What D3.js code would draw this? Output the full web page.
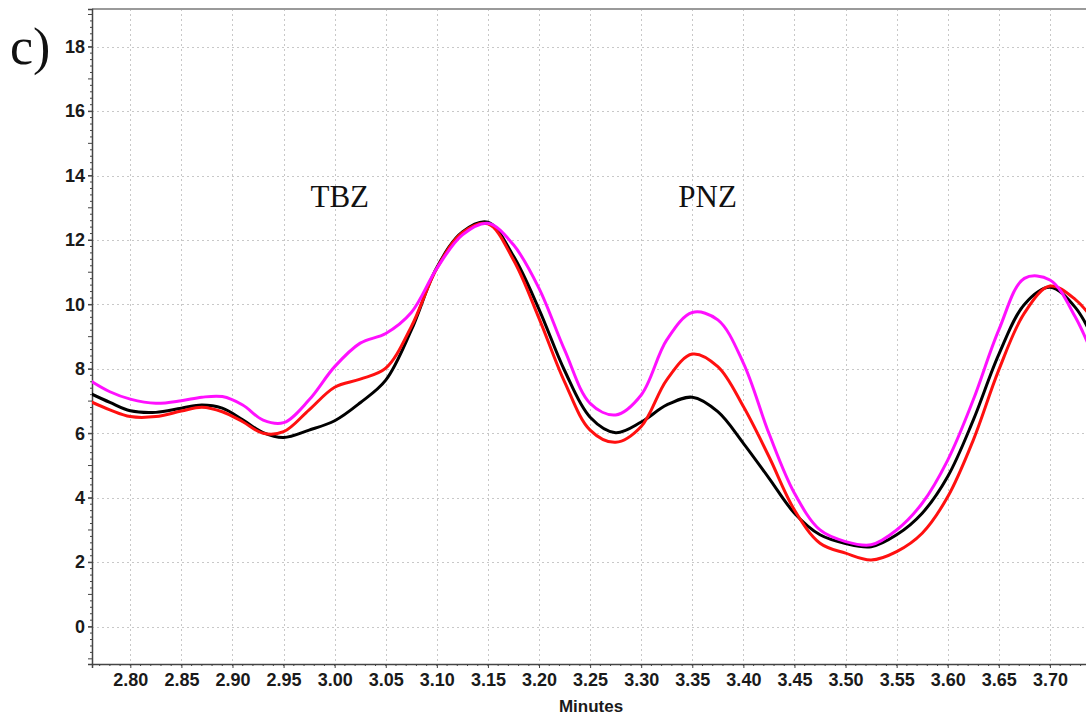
<!DOCTYPE html>
<html>
<head>
<meta charset="utf-8">
<script src="https://cdn.jsdelivr.net/npm/d3@7"></script>
<style>
  body { margin: 0; background: #fff; }
  svg { display: block; }
</style>
</head>
<body>
<script>
// retention time (minutes) shared by the three traces
var minutes = [2.76, 2.78, 2.80, 2.825, 2.85, 2.87, 2.89, 2.91, 2.93, 2.95, 2.975,
  3.00, 3.025, 3.05, 3.075, 3.10, 3.125, 3.15, 3.175, 3.20, 3.225, 3.25, 3.275,
  3.30, 3.325, 3.35, 3.375, 3.40, 3.425, 3.45, 3.475, 3.50, 3.525, 3.55, 3.575,
  3.60, 3.625, 3.65, 3.675, 3.70, 3.725, 3.75];

var blackTrace = [7.25, 6.96, 6.70, 6.65, 6.78, 6.88, 6.78, 6.42, 6.02, 5.87, 6.10,
  6.39, 6.95, 7.65, 9.2, 11.15, 12.25, 12.55, 11.5, 9.85, 7.95, 6.5, 6.02,
  6.35, 6.88, 7.12, 6.67, 5.69, 4.61, 3.52, 2.85, 2.58, 2.48, 2.85, 3.52,
  4.66, 6.41, 8.45, 10.0, 10.53, 9.9, 8.4];

var redTrace = [7.0, 6.73, 6.52, 6.52, 6.69, 6.81, 6.67, 6.36, 6.00, 6.05, 6.73,
  7.43, 7.68, 8.02, 9.31, 11.12, 12.23, 12.50, 11.38, 9.57, 7.60, 6.10, 5.72,
  6.21, 7.66, 8.46, 8.07, 6.83, 5.28, 3.62, 2.59, 2.28, 2.07, 2.33, 2.90,
  4.03, 5.79, 7.97, 9.73, 10.57, 10.15, 9.2];

var magentaTrace = [7.65, 7.29, 7.06, 6.93, 7.01, 7.12, 7.14, 6.88, 6.41, 6.33, 7.04,
  8.07, 8.80, 9.10, 9.75, 11.12, 12.16, 12.52, 11.85, 10.50, 8.59, 6.93, 6.57,
  7.19, 8.90, 9.75, 9.52, 8.18, 6.00, 4.14, 3.00, 2.64, 2.54, 3.00, 3.83,
  5.17, 7.04, 9.21, 10.81, 10.76, 9.6, 7.8];

var xTicks = [2.80, 2.85, 2.90, 2.95, 3.00, 3.05, 3.10, 3.15, 3.20, 3.25, 3.30,
  3.35, 3.40, 3.45, 3.50, 3.55, 3.60, 3.65, 3.70];
var yTicks = [0, 2, 4, 6, 8, 10, 12, 14, 16, 18];
var peakLabels = ["TBZ", "PNZ"];
var peakTimes = [3.005, 3.365];

var width = 1086, height = 718;
var padLeft = 92, padTop = 9, padBottom = 664;

var svg = d3.select("body").append("svg")
    .attr("width", width)
    .attr("height", height);

var x = d3.scaleLinear()
    .domain([2.7625, 3.75])
    .range([padLeft, 1101]);

var y = d3.scaleLinear()
    .domain([-1.16, 19.17])
    .range([padBottom, padTop]);

svg.append("defs").append("clipPath")
    .attr("id", "plot")
  .append("rect")
    .attr("x", padLeft)
    .attr("y", padTop)
    .attr("width", width - padLeft)
    .attr("height", padBottom - padTop);

// dotted grid
svg.append("g").selectAll("line")
    .data(xTicks).enter()
    .append("line")
    .attr("x1", function(d){ return Math.round(x(d)) + 0.5; })
    .attr("x2", function(d){ return Math.round(x(d)) + 0.5; })
    .attr("y1", padTop)
    .attr("y2", padBottom)
    .attr("stroke", "#c8c8c8")
    .attr("stroke-dasharray", "2,3");

svg.append("g").selectAll("line")
    .data(yTicks).enter()
    .append("line")
    .attr("x1", padLeft)
    .attr("x2", width)
    .attr("y1", function(d){ return Math.round(y(d)) + 0.5; })
    .attr("y2", function(d){ return Math.round(y(d)) + 0.5; })
    .attr("stroke", "#c8c8c8")
    .attr("stroke-dasharray", "2,3");

// top frame line
svg.append("line")
    .attr("x1", padLeft).attr("x2", width)
    .attr("y1", padTop).attr("y2", padTop)
    .attr("stroke", "#9a9a9a")
    .attr("stroke-width", 2);

// axes
var yAxis = d3.axisLeft(y)
    .tickValues(yTicks)
    .tickSize(4)
    .tickFormat(d3.format("d"));

var gy = svg.append("g")
    .attr("transform", "translate(" + padLeft + ",0)")
    .call(yAxis);

var yMinor = d3.range(-1, 19.01, 0.2).map(function(d){ return Math.round(d * 10) / 10; });
gy.selectAll(".minor")
    .data(yMinor).enter()
    .append("line")
    .attr("class", "minor")
    .attr("x1", function(d){ return Math.abs(d - Math.round(d)) < 0.01 ? -4 : -2; })
    .attr("x2", 0)
    .attr("y1", function(d){ return y(d); })
    .attr("y2", function(d){ return y(d); })
    .attr("stroke", "#444");

var xAxis = d3.axisBottom(x)
    .tickValues(xTicks)
    .tickSize(4)
    .tickFormat(d3.format(".2f"));

var gx = svg.append("g")
    .attr("transform", "translate(0," + padBottom + ")")
    .call(xAxis);

var xMinor = d3.range(2.77, 3.76, 0.01);
gx.selectAll(".minor")
    .data(xMinor).enter()
    .append("line")
    .attr("class", "minor")
    .attr("x1", function(d){ return x(d); })
    .attr("x2", function(d){ return x(d); })
    .attr("y1", 0)
    .attr("y2", 2)
    .attr("stroke", "#444");

[gx, gy].forEach(function(g){
  g.select(".domain").attr("stroke", "#444").attr("stroke-width", 1.5);
  g.selectAll(".tick line").attr("stroke", "#444");
  g.selectAll(".tick text")
    .attr("font-family", "'Liberation Sans', Arial, sans-serif")
    .attr("font-weight", "bold")
    .attr("font-size", 18)
    .attr("fill", "#1a1a1a");
});
gy.selectAll(".tick text").attr("x", -7);
gx.selectAll(".tick text").attr("y", 9);

svg.append("text")
    .attr("x", 591)
    .attr("y", 712)
    .attr("text-anchor", "middle")
    .attr("font-family", "'Liberation Sans', Arial, sans-serif")
    .attr("font-weight", "bold")
    .attr("font-size", 17)
    .attr("fill", "#1a1a1a")
    .text("Minutes");

// traces
var line = d3.line()
    .x(function(d){ return x(d[0]); })
    .y(function(d){ return y(d[1]); })
    .curve(d3.curveCatmullRom);

var traces = [
  { values: blackTrace, color: "#000000" },
  { values: redTrace, color: "#ff1010" },
  { values: magentaTrace, color: "#ff10ff" }
];

svg.append("g")
    .attr("clip-path", "url(#plot)")
  .selectAll("path")
    .data(traces).enter()
    .append("path")
    .attr("d", function(t){ return line(d3.zip(minutes, t.values)); })
    .attr("fill", "none")
    .attr("stroke", function(t){ return t.color; })
    .attr("stroke-width", 3);

// peak names
svg.selectAll(".peak")
    .data(peakLabels).enter()
    .append("text")
    .attr("class", "peak")
    .attr("x", function(d, i){ return x(peakTimes[i]); })
    .attr("y", 207)
    .attr("text-anchor", "middle")
    .attr("font-family", "'Liberation Serif', 'Times New Roman', serif")
    .attr("font-size", 31)
    .attr("fill", "#111")
    .text(function(d){ return d; });

svg.append("text")
    .attr("x", 10)
    .attr("y", 64)
    .attr("font-family", "'Liberation Serif', 'Times New Roman', serif")
    .attr("font-size", 52)
    .attr("fill", "#111")
    .text("c)");
</script>
</body>
</html>
